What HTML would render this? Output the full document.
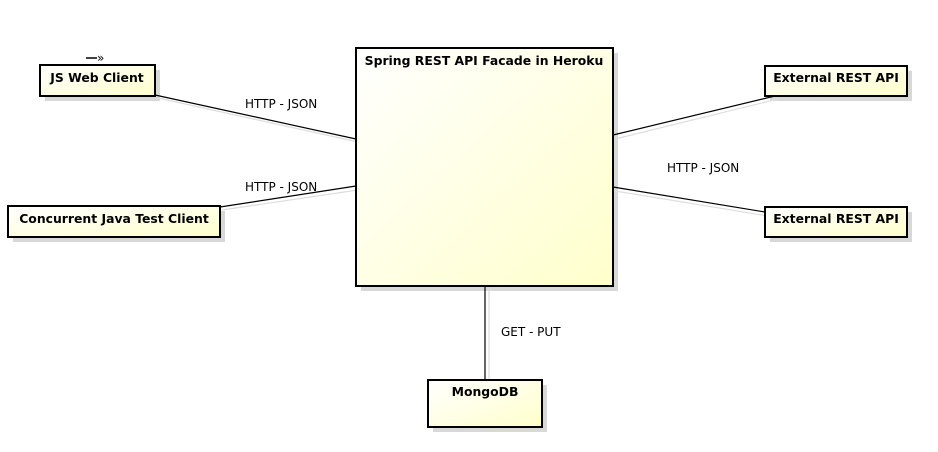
<!DOCTYPE html>
<html><head><style>
body{margin:0;background:#fff;width:938px;height:447px;overflow:hidden}
text{font-family:"DejaVu Sans","Liberation Sans",sans-serif}
</style></head><body>
<svg width="938" height="447" xmlns="http://www.w3.org/2000/svg">
<defs>
<linearGradient id="g" x1="0" y1="0" x2="1" y2="1">
<stop offset="0" stop-color="#ffffff"/><stop offset="1" stop-color="#ffffcc"/>
</linearGradient>
</defs>
<g fill="#d8d8d8">
<rect x="45" y="70" width="115" height="31"/>
<rect x="13" y="211" width="212" height="31"/>
<rect x="361" y="53" width="257" height="238"/>
<rect x="770" y="71" width="142" height="30"/>
<rect x="770" y="212" width="142" height="30"/>
<rect x="433" y="385" width="114" height="47"/>
</g>
<g stroke="#ddd" stroke-width="1.2" fill="none">
<line x1="158" y1="98" x2="358" y2="142"/>
<line x1="222" y1="210" x2="358" y2="190"/>
<line x1="615" y1="139" x2="778" y2="99"/>
<line x1="615" y1="191" x2="768" y2="216"/>
<line x1="489" y1="288" x2="489" y2="381"/>
</g>
<g stroke="#000" stroke-width="1.2" fill="none">
<line x1="155" y1="95" x2="356" y2="139"/>
<line x1="220" y1="207" x2="356" y2="186"/>
<line x1="613" y1="135" x2="775" y2="96"/>
<line x1="613" y1="187" x2="765" y2="212"/>
<line x1="485" y1="286" x2="485" y2="380"/>
</g>
<g fill="url(#g)" stroke="#000" stroke-width="2">
<rect x="40" y="65" width="115" height="31"/>
<rect x="8" y="206" width="212" height="31"/>
<rect x="356" y="48" width="257" height="238"/>
<rect x="765" y="66" width="142" height="30"/>
<rect x="765" y="207" width="142" height="30"/>
<rect x="428" y="380" width="114" height="47"/>
</g>
<g font-size="12.4" font-weight="bold" text-anchor="middle" fill="#000">
<text x="97" y="82">JS Web Client</text>
<text x="114" y="223">Concurrent Java Test Client</text>
<text x="484" y="65">Spring REST API Facade in Heroku</text>
<text x="836" y="82">External REST API</text>
<text x="836" y="223">External REST API</text>
<text x="485" y="396">MongoDB</text>
</g>
<g font-size="12" fill="#000">
<text x="245" y="108">HTTP - JSON</text>
<text x="245" y="191">HTTP - JSON</text>
<text x="667" y="172">HTTP - JSON</text>
<text x="501" y="336">GET - PUT</text>
</g>
<line x1="86" y1="58" x2="97" y2="58" stroke="#000" stroke-width="1.5"/>
<text x="97" y="62" font-size="12">»</text>
</svg>
</body></html>
